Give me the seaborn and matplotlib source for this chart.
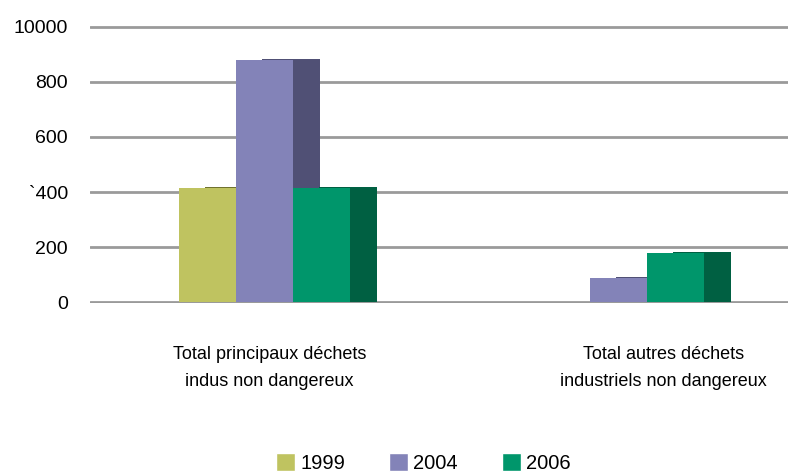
import numpy as np
import pandas as pd
import matplotlib
matplotlib.use('Agg')
import matplotlib.pyplot as plt
import matplotlib.transforms as mtransforms
import seaborn as sns
from matplotlib.patches import Rectangle, Patch

categories = ['Total principaux déchets\nindus non dangereux',
              'Total autres déchets\nindustriels non dangereux']
years = ['1999', '2004', '2006']
v1999 = [414, 0]
v2004 = [880, 87]
v2006 = [414, 178]
ytick_vals = [0, 200, 400, 600, 800, 1000]
ytick_labels = ['0', '200', '`400', '600', '800', '10000']

front_colors = ['#BFC360', '#8383B8', '#00966B']
side_colors = ['#70722F', '#505075', '#006042']

df = pd.DataFrame({'cat': categories * 3,
                   'year': np.repeat(years, len(categories)),
                   'value': v1999 + v2004 + v2006})

sns.set_style('white')
plt.rcParams['font.family'] = ['Liberation Sans', 'DejaVu Sans']
plt.rcParams['text.color'] = 'black'
plt.rcParams['xtick.color'] = 'black'
plt.rcParams['ytick.color'] = 'black'

fig = plt.figure(figsize=(7.88, 4.74), dpi=100)
ax = fig.add_axes([90/788, (474-303.4)/474, (788-90)/788, (303.4-25.6)/474])
sns.barplot(data=df, x='cat', y='value', hue='year', palette=front_colors,
            width=0.483, saturation=1, ax=ax, legend=False, zorder=3, linewidth=0)

# fake 3d side faces behind the fronts
for i, p in enumerate(list(ax.patches)):
    h = p.get_height()
    if h <= 0:
        continue
    yr = i // len(categories)
    x, w = p.get_x(), p.get_width()
    ax.add_patch(Rectangle((x + w*0.45, 0), w*1.02, h + 5, facecolor=side_colors[yr], lw=0, zorder=2))

ax.set_xlim(-0.493, 1.479)
ax.set_ylim(-5, 1005)
ax.set_yticks(ytick_vals, ytick_labels)
ax.yaxis.grid(True, color='#9a9a9a', lw=2)
ax.xaxis.grid(False)
ax.set_axisbelow(True)
sns.despine(ax=ax, left=True, bottom=True)
ax.tick_params(axis='y', length=0, pad=16, labelsize=14)
ax.tick_params(axis='x', length=0, pad=31, labelsize=13)
ax.set_xlabel('')
ax.set_ylabel('')

# category labels sit a bit right of the bar groups in the original
for lbl, dx in zip(ax.get_xticklabels(), [5, 45]):
    lbl.set_linespacing(1.75)
    lbl.set_transform(lbl.get_transform() + mtransforms.ScaledTranslation(dx/100, 0, fig.dpi_scale_trans))

handles = [Patch(facecolor=c) for c in front_colors]
fig.legend(handles, years, loc='center', bbox_to_anchor=(423.5/788, 11/474), ncol=3,
           frameon=False, fontsize=14.5, handlelength=0.95, handleheight=0.95,
           handletextpad=0.25, columnspacing=2.2, borderpad=0)

fig.savefig('out.png', dpi=100)
